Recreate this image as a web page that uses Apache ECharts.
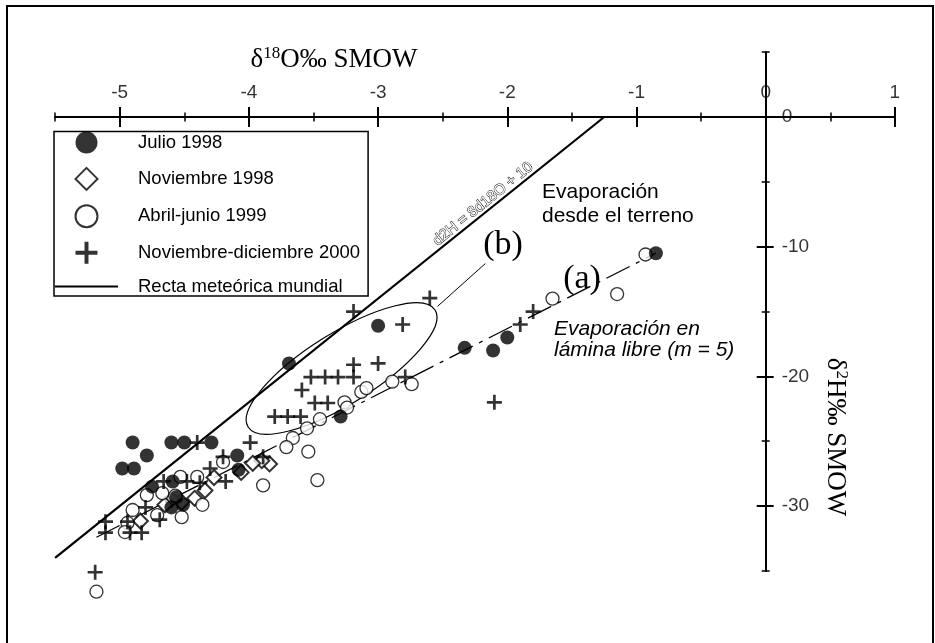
<!DOCTYPE html>
<html><head><meta charset="utf-8">
<script src="https://cdn.jsdelivr.net/npm/echarts@6/dist/echarts.min.js"></script>
<style>html,body{margin:0;padding:0;background:#fff}#c{width:935px;height:643px}</style>
</head><body><div id="c"></div>
<script>
// ---- data (δ18O, δ2H) ----
const julioX = [-3.00,-3.69,-3.29,-2.33,-2.11,-2.00,-0.85,-4.90,-4.60,-4.50,-4.29,-4.79,-4.98,-4.89,-4.09,-4.08,-4.59,-4.75,-4.56,-4.60,-4.51];
const julioY = [-16.1,-19.0,-23.1,-17.8,-18.0,-17.0,-10.5,-25.1,-25.1,-25.1,-25.1,-26.1,-27.1,-27.1,-26.1,-27.2,-28.1,-28.5,-29.3,-30.1,-29.9];

const nov98X = [-3.84,-3.90,-3.97,-4.06,-4.27,-4.34,-4.42,-4.52,-4.60,-4.65,-4.84];
const nov98Y = [-26.75,-26.5,-26.7,-27.4,-27.8,-28.8,-29.4,-29.7,-29.5,-29.9,-31.15];

const abrilX = [-0.93,-1.15,-1.65,-2.74,-2.89,-3.13,-3.09,-3.26,-3.24,-3.45,-3.55,-3.66,-3.71,-3.54,-3.47,-3.89,-4.20,-4.36,-4.52,-4.40,-4.53,-4.67,-4.79,-4.90,-4.94,-4.96,-5.18,-4.57,-4.71];
const abrilY = [-10.6,-13.65,-14.0,-20.6,-20.4,-21.2,-20.9,-22.0,-22.4,-23.3,-24.0,-24.75,-25.45,-25.8,-28.0,-28.4,-26.6,-29.9,-30.85,-27.75,-27.75,-29.0,-29.15,-30.3,-31.3,-32.0,-36.6,-29.2,-30.7];

const nov00X = [-2.60,-3.19,-2.81,-3.19,-3.00,-3.52,-3.41,-3.31,-3.19,-3.59,-3.49,-3.39,-3.80,-3.70,-3.60,-2.79,-1.90,-1.80,-2.10,-3.99,-4.40,-4.20,-3.89,-4.30,-4.18,-4.66,-4.48,-4.38,-4.80,-4.69,-5.11,-5.11,-4.94,-4.92,-4.83,-5.19];
const nov00Y = [-13.96,-15.0,-16.0,-19.1,-19.0,-20.05,-20.05,-20.05,-20.05,-21.05,-22.05,-22.05,-23.1,-23.1,-23.1,-20.05,-16.0,-15.0,-22.0,-25.1,-25.1,-26.2,-26.2,-27.1,-28.1,-28.1,-28.1,-28.2,-30.1,-31.05,-31.2,-32.05,-31.2,-32.05,-32.05,-35.1];

// global meteoric water line d2H = 8 d18O + 10
const gmwlX = [-5.5, -1.25];
const gmwlY = [-34, 0];
// evaporation line (a), m = 5
const evapX = [-5.18, -0.85];
const evapY = [-32.4, -10.5];
// ellipse (b): major-axis end points, and connector to label
const ellMajorX = [-4.006, -2.559];
const ellMajorY = [-23.90, -14.88];
const ellRatio = 0.32;
const connX = [-2.54, -2.17];
const connY = [-14.6, -11.3];

// ticks
const xMajorTicks = [-5,-4,-3,-2,-1,0,1];
const xTickLabels = ['-5','-4','-3','-2','-1','0','1'];
const xMinorTicks = [-5.5,-4.5,-3.5,-2.5,-1.5,-0.5,0.5];
const yMajorTicks = [0,-10,-20,-30];
const yTickLabels = ['0','-10','-20','-30'];
const yMinorTicks = [5,-5,-15,-25,-35];

const zip = (xs, ys) => xs.map((x, i) => [x, ys[i]]);
const FONT = '"Liberation Sans", Arial, sans-serif';
const SERIF = '"Liberation Serif", "Times New Roman", serif';
const PLUS = 'path://M0.41,0 H0.59 V0.41 H1 V0.59 H0.59 V1 H0.41 V0.59 H0 V0.41 H0.41 Z';
const DIAMOND = 'path://M0.5,0 L1,0.5 L0.5,1 L0,0.5 Z';

const gridRect = {left: 55.1, top: 52.15, width: 839.8, height: 518.8, containLabel: false, outerBoundsMode: 'none'};
const xRange = {type: 'value', min: -5.5, max: 1, interval: 0.5, splitLine: {show: false}};
const yRange = {type: 'value', min: -35, max: 5, interval: 5, splitLine: {show: false}};
const blk = (w) => ({color: '#000', width: w});

function xAx(grid, pos, ticks, len, w, main) {
  return Object.assign({}, xRange, {
    gridIndex: grid, position: pos,
    axisLine: {show: !!main, onZero: true, lineStyle: blk(2)},
    axisTick: {show: true, customValues: ticks, length: len, lineStyle: blk(w)},
    axisLabel: {show: false}
  });
}
function yAx(grid, pos, ticks, len, w, main) {
  return Object.assign({}, yRange, {
    gridIndex: grid, position: pos,
    axisLine: {show: !!main, onZero: true, lineStyle: blk(2)},
    axisTick: {show: true, customValues: ticks, length: len, lineStyle: blk(w)},
    axisLabel: {show: false}
  });
}

const chart = echarts.init(document.getElementById('c'), null, {renderer: 'canvas'});
chart.setOption({
  animation: false,
  backgroundColor: '#fff',
  grid: [Object.assign({}, gridRect), Object.assign({}, gridRect)],
  xAxis: [
    xAx(0, 'top', xMajorTicks, 10, 2, true),
    xAx(0, 'bottom', xMajorTicks, 10, 2, false),
    xAx(1, 'top', xMinorTicks, 4.5, 1.5, false),
    xAx(1, 'bottom', xMinorTicks, 4.5, 1.5, false)
  ],
  yAxis: [
    yAx(0, 'right', yMajorTicks, 8, 2, true),
    yAx(0, 'left', yMajorTicks, 9, 2, false),
    yAx(1, 'right', yMinorTicks, 4, 1.5, false),
    yAx(1, 'left', yMinorTicks, 4, 1.5, false)
  ],
  legend: {
    orient: 'vertical', left: 54, top: 131.5, itemWidth: 63, itemHeight: 22, itemGap: 13.4,
    padding: [0, 8, 0, 0], borderColor: '#000', borderWidth: 1.5, selectedMode: false, symbolKeepAspect: true,
    textStyle: {fontSize: 18.5, fontFamily: FONT, color: '#000', padding: [0, 0, 0, 15]},
    data: [
      {name: 'Julio 1998'},
      {name: 'Noviembre 1998', icon: DIAMOND},
      {name: 'Abril-junio 1999'},
      {name: 'Noviembre-diciembre 2000'},
      {name: 'Recta meteórica mundial', itemStyle: {opacity: 0}}
    ]
  },
  series: [
    {name: 'Recta meteórica mundial', type: 'line', data: zip(gmwlX, gmwlY), symbol: 'none', showSymbol: false,
      lineStyle: {color: '#000', width: 2.2}, itemStyle: {color: '#000', opacity: 0}, silent: true, z: 1},
    {name: 'evap', type: 'line', data: zip(evapX, evapY), symbol: 'none', showSymbol: false,
      lineStyle: {color: '#000', width: 1.3, type: [26, 7, 4, 7]}, silent: true, z: 1},
    {name: 'conn', type: 'line', data: zip(connX, connY), symbol: 'none', showSymbol: false,
      lineStyle: {color: '#000', width: 1}, silent: true, z: 1},
    {name: 'ellipse', type: 'custom', silent: true, z: 1,
      data: [[(ellMajorX[0] + ellMajorX[1]) / 2, (ellMajorY[0] + ellMajorY[1]) / 2]],
      renderItem: function (params, api) {
        const p1 = api.coord([ellMajorX[0], ellMajorY[0]]);
        const p2 = api.coord([ellMajorX[1], ellMajorY[1]]);
        const dx = p2[0] - p1[0], dy = p2[1] - p1[1];
        const rx = Math.hypot(dx, dy) / 2;
        return {type: 'ellipse', x: (p1[0] + p2[0]) / 2, y: (p1[1] + p2[1]) / 2, rotation: -Math.atan2(dy, dx),
          shape: {cx: 0, cy: 0, rx: rx, ry: rx * ellRatio}, style: {fill: 'none', stroke: '#000', lineWidth: 1.2}};
      }},
    // tick labels, placed through the axes' scales
    {name: 'xTickLabels', type: 'scatter', silent: true, symbolSize: 0, z: 5,
      data: xMajorTicks.map(v => [v, 0]),
      label: {show: true, position: 'top', distance: 15, fontSize: 19, fontFamily: FONT, color: '#000',
        formatter: (p) => xTickLabels[p.dataIndex]}},
    {name: 'yTickLabels', type: 'scatter', silent: true, symbolSize: 0, z: 5,
      data: yMajorTicks.map(v => [0, v]),
      label: {show: true, position: 'right', distance: 16, fontSize: 19, fontFamily: FONT, color: '#000',
        formatter: (p) => yTickLabels[p.dataIndex]}},
    {name: 'Noviembre 1998', type: 'scatter', data: zip(nov98X, nov98Y), symbol: 'diamond', symbolSize: 15, clip: false,
      itemStyle: {color: '#fff', borderColor: '#000', borderWidth: 2}, z: 3},
    {name: 'Abril-junio 1999', type: 'scatter', data: zip(abrilX, abrilY), symbol: 'circle', symbolSize: 13, clip: false,
      itemStyle: {color: '#fff', borderColor: '#000', borderWidth: 1.3}, z: 3},
    {name: 'Julio 1998', type: 'scatter', data: zip(julioX, julioY), symbol: 'circle', symbolSize: 14, clip: false,
      itemStyle: {color: '#000'}, z: 3},
    {name: 'Noviembre-diciembre 2000', type: 'scatter', data: zip(nov00X, nov00Y), symbol: PLUS, symbolSize: 15, clip: false,
      itemStyle: {color: '#000'}, z: 3}
  ],
  graphic: [
    {type: 'rect', shape: {x: 7, y: 6, width: 926, height: 660}, style: {fill: 'none', stroke: '#000', lineWidth: 2}, z: 0, silent: true},
    {type: 'text', x: 334, y: 60, style: {text: '{a|δ}{s|18}{a|O‰ SMOW}', align: 'center', verticalAlign: 'middle', fill: '#000',
      rich: {a: {fontSize: 27, fontFamily: SERIF, lineHeight: 30, fill: '#000'}, s: {fontSize: 17, fontFamily: SERIF, lineHeight: 24, verticalAlign: 'top', fill: '#000'}}}},
    {type: 'text', x: 835, y: 437, rotation: -Math.PI / 2, style: {text: '{a|δ}{s|2}{a|H‰ SMOW}', align: 'center', verticalAlign: 'middle', fill: '#000',
      rich: {a: {fontSize: 27, fontFamily: SERIF, lineHeight: 30, fill: '#000'}, s: {fontSize: 17, fontFamily: SERIF, lineHeight: 24, verticalAlign: 'top', fill: '#000'}}}},
    {type: 'text', x: 483, y: 204, rotation: 0.677, style: {text: 'd2H = 8d18O + 10', fontSize: 15, fontFamily: FONT, fill: '#fff', stroke: '#000', lineWidth: 0.9, align: 'center', verticalAlign: 'middle'}},
    {type: 'text', x: 503, y: 245, style: {text: '(b)', fontSize: 34, fontFamily: SERIF, fill: '#000', align: 'center', verticalAlign: 'middle'}},
    {type: 'text', x: 582, y: 279, style: {text: '(a)', fontSize: 34, fontFamily: SERIF, fill: '#000', align: 'center', verticalAlign: 'middle'}},
    {type: 'text', x: 542, y: 180, style: {text: 'Evaporación\ndesde el terreno', fontSize: 21, lineHeight: 24, fontFamily: FONT, fill: '#000', align: 'left', verticalAlign: 'top'}},
    {type: 'text', x: 554, y: 318.5, style: {text: 'Evaporación en\nlámina libre (m = 5)', fontSize: 21, lineHeight: 21, fontStyle: 'italic', fontFamily: FONT, fill: '#000', align: 'left', verticalAlign: 'top'}}
  ]
});
</script></body></html>
